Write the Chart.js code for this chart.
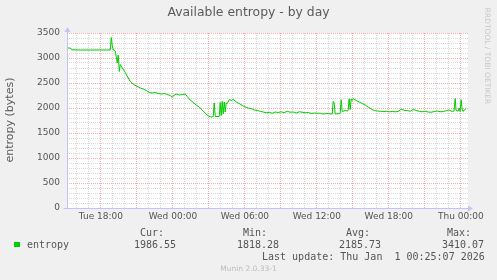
<!DOCTYPE html>
<html>
<head>
<meta charset="utf-8">
<script src="https://cdn.jsdelivr.net/npm/chart.js@4/dist/chart.umd.min.js"></script>
<style>
  html, body { margin: 0; padding: 0; background: #f0f0f0; }
  canvas { display: block; }
</style>
</head>
<body>
<canvas id="chart" width="497" height="280"></canvas>
<script>
// hours since Tue 00:00
const hours = [
  15.19, 15.44, 15.57, 16.28, 17.11, 17.94, 18.78, 18.86, 18.94, 19.03,
  19.19, 19.36, 19.44, 19.53, 19.61, 19.78, 20.03, 20.28, 20.44, 20.69,
  20.94, 21.28, 21.53, 21.78, 22.03, 22.28, 22.53, 22.78, 23.03, 23.28,
  23.53, 23.78, 23.94, 24.11, 24.28, 24.53, 24.78, 25.03, 25.19, 25.44,
  25.69, 25.94, 26.19, 26.44, 26.69, 26.94, 27.19, 27.36, 27.44, 27.53,
  27.86, 27.94, 28.03, 28.11, 28.19, 28.28, 28.36, 28.44, 28.53, 28.69,
  28.86, 29.03, 29.28, 29.53, 29.78, 30.03, 30.28, 30.53, 30.78, 31.03,
  31.28, 31.53, 31.78, 32.03, 32.28, 32.53, 32.78, 33.03, 33.28, 33.53,
  33.78, 34.03, 34.28, 34.53, 34.78, 35.03, 35.28, 35.53, 35.78, 36.03,
  36.28, 36.53, 36.78, 37.03, 37.28, 37.36, 37.44, 37.53, 37.78, 37.94,
  38.03, 38.11, 38.36, 38.53, 38.61, 38.69, 38.78, 38.86, 38.94, 39.03,
  39.28, 39.53, 39.78, 40.03, 40.28, 40.53, 40.78, 41.03, 41.28, 41.53,
  41.78, 42.03, 42.28, 42.53, 42.78, 43.03, 43.28, 43.53, 43.78, 44.03,
  44.28, 44.53, 44.78, 45.03, 45.28, 45.53, 45.78, 46.03, 46.28, 46.53,
  46.78, 47.03, 47.28, 47.44, 47.53, 47.61, 47.78, 47.86, 47.94, 48.03,
  48.11, 48.19, 48.28, 48.44
];
const entropy = [
  3200, 3200, 3165, 3160, 3160, 3160, 3160, 3410, 3250, 3160,
  3140, 2900, 3060, 2730, 2870, 2800, 2710, 2600, 2530, 2480,
  2440, 2400, 2380, 2350, 2310, 2300, 2310, 2290, 2280, 2290,
  2270, 2250, 2215, 2260, 2280, 2260, 2270, 2280, 2230, 2160,
  2110, 2060, 2020, 1960, 1900, 1840, 1820, 1830, 2100, 1830,
  1830, 2110, 1850, 2130, 1880, 2120, 1920, 2100, 2090, 2170,
  2150, 2170, 2120, 2090, 2050, 2020, 2000, 1990, 1960, 1950,
  1935, 1920, 1905, 1915, 1895, 1920, 1910, 1925, 1905, 1935,
  1915, 1920, 1900, 1925, 1915, 1905, 1910, 1890, 1900, 1895,
  1895, 1880, 1890, 1885, 1880, 2130, 2100, 1880, 1885, 1890,
  2165, 1930, 1950, 1940, 1950, 2185, 1970, 2180, 2150, 2190,
  2150, 2120, 2090, 2060, 2020, 1980, 1950, 1940, 1935, 1930,
  1935, 1925, 1930, 1925, 1930, 1975, 1955, 1950, 1935, 1970,
  1950, 1935, 1925, 1935, 1920, 1915, 1930, 1940, 1925, 1930,
  1945, 1960, 1930, 1940, 2190, 1950, 1940, 2000, 1930, 2165,
  1980, 1930, 1960, 1987
];

const tickHours = [18, 24, 30, 36, 42, 48];
const tickLabels = ['Tue 18:00', 'Wed 00:00', 'Wed 06:00', 'Wed 12:00', 'Wed 18:00', 'Thu 00:00'];

const statNames = ['Cur:', 'Min:', 'Avg:', 'Max:'];
const statValues = ['1986.55', '1818.28', '2185.73', '3410.07'];

const GREEN = '#00cc00';
const MAJOR = 'rgba(240, 130, 130, 0.65)';
const MINOR = 'rgba(200, 200, 200, 0.7)';
const AXIS = '#c4c4f4';

const muninDecor = {
  id: 'muninDecor',
  beforeDraw(chart) {
    const {ctx, chartArea: a} = chart;
    ctx.save();
    ctx.fillStyle = '#f0f0f0';
    ctx.fillRect(0, 0, chart.width, chart.height);
    ctx.fillStyle = '#ffffff';
    ctx.fillRect(a.left, a.top, a.right - a.left, a.bottom - a.top);
    ctx.restore();
  },
  afterDraw(chart) {
    const {ctx, chartArea: a} = chart;
    ctx.save();

    // axes with arrow heads
    ctx.strokeStyle = AXIS;
    ctx.fillStyle = AXIS;
    ctx.lineWidth = 1;
    const x0 = Math.round(a.left) + 0.5;
    const y0 = Math.round(a.bottom) + 0.5;
    ctx.beginPath();
    ctx.moveTo(x0, y0);
    ctx.lineTo(x0, a.top - 4);
    ctx.moveTo(x0 - 4, y0);
    ctx.lineTo(a.right + 1, y0);
    ctx.stroke();
    ctx.beginPath();
    ctx.moveTo(x0 - 3, a.top - 1);
    ctx.lineTo(x0 + 3, a.top - 1);
    ctx.lineTo(x0, a.top - 6);
    ctx.closePath();
    ctx.fill();
    ctx.beginPath();
    ctx.moveTo(a.right, y0 - 3);
    ctx.lineTo(a.right, y0 + 3);
    ctx.lineTo(a.right + 5, y0);
    ctx.closePath();
    ctx.fill();

    ctx.textBaseline = 'middle';

    // title
    ctx.fillStyle = '#5a5a5a';
    ctx.font = '12.4px "DejaVu Sans"';
    ctx.textAlign = 'center';
    ctx.fillText('Available entropy - by day', 248.5, 13);

    // y axis title
    ctx.save();
    ctx.translate(10, 120);
    ctx.rotate(-Math.PI / 2);
    ctx.font = '11px "DejaVu Sans"';
    ctx.fillText('entropy (bytes)', 0, 0);
    ctx.restore();

    // watermark on the right
    ctx.save();
    ctx.translate(487, 56);
    ctx.rotate(Math.PI / 2);
    ctx.fillStyle = '#c8c8c8';
    ctx.font = '7.5px "DejaVu Sans"';
    ctx.fillText('RRDTOOL / TOBI OETIKER', 0, 0);
    ctx.restore();

    // legend block
    ctx.textAlign = 'left';
    ctx.font = '10px "DejaVu Sans Mono"';
    ctx.fillStyle = '#555555';
    const nameX = [140, 243, 346, 447];
    const valX = [134, 237, 339, 442];
    statNames.forEach((s, i) => ctx.fillText(s, nameX[i], 233.5));
    statValues.forEach((s, i) => ctx.fillText(s, valX[i], 245.5));
    ctx.fillText('entropy', 27, 245.5);
    ctx.fillText('Last update: Thu Jan  1 00:25:07 2026', 262, 257.5);

    ctx.fillStyle = GREEN;
    ctx.fillRect(14, 242, 6, 5);

    ctx.fillStyle = '#bbbbbb';
    ctx.font = '7.5px "DejaVu Sans"';
    ctx.textAlign = 'center';
    ctx.fillText('Munin 2.0.33-1', 248.5, 269.5);

    ctx.restore();
  }
};

new Chart(document.getElementById('chart'), {
  type: 'line',
  data: {
    datasets: [{
      label: 'entropy',
      data: hours.map((h, i) => ({x: h, y: entropy[i]})),
      borderColor: GREEN,
      borderWidth: 1,
      pointRadius: 0,
      tension: 0,
      fill: false
    }]
  },
  options: {
    responsive: false,
    animation: false,
    devicePixelRatio: 1,
    layout: { padding: { top: 33, right: 29, left: 0, bottom: 0 } },
    plugins: { legend: { display: false }, tooltip: { enabled: false } },
    scales: {
      x: {
        type: 'linear',
        min: 15.17,
        max: 48.6,
        afterBuildTicks: scale => {
          const t = [];
          for (let h = 16; h <= 48; h++) t.push({value: h});
          scale.ticks = t;
        },
        afterFit: scale => { scale.height = 72; },
        ticks: {
          autoSkip: false,
          maxRotation: 0,
          padding: 3,
          color: '#555555',
          font: { family: 'DejaVu Sans', size: 9 },
          callback: v => {
            const i = tickHours.indexOf(v);
            return i >= 0 ? tickLabels[i] : '';
          }
        },
        grid: {
          drawTicks: false,
          lineWidth: 1,
          color: c => (c.tick && c.tick.value % 3 === 0 ? MAJOR : MINOR)
        },
        border: { display: false, dash: [1, 1] }
      },
      y: {
        min: 0,
        max: 3500,
        afterBuildTicks: scale => {
          const t = [];
          for (let v = 0; v <= 3500; v += 100) t.push({value: v});
          scale.ticks = t;
        },
        afterFit: scale => { scale.width = 67; },
        ticks: {
          autoSkip: false,
          padding: 7,
          color: '#555555',
          font: { family: 'DejaVu Sans', size: 9 },
          callback: v => (v % 500 === 0 ? String(v) : '')
        },
        grid: {
          drawTicks: false,
          lineWidth: 1,
          color: c => (c.tick && c.tick.value % 500 === 0 ? MAJOR : MINOR)
        },
        border: { display: false, dash: [1, 1] }
      }
    }
  },
  plugins: [muninDecor]
});
</script>
</body>
</html>
